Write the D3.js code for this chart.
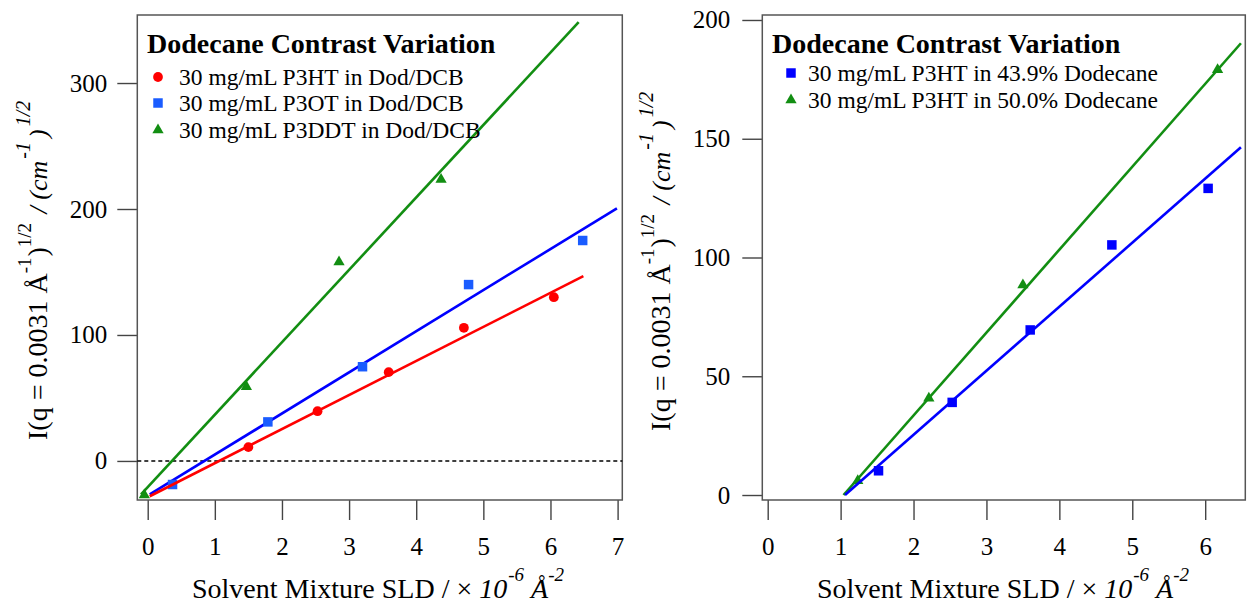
<!DOCTYPE html>
<html><head><meta charset="utf-8">
<script src="https://cdn.jsdelivr.net/npm/d3@7"></script>
<style>
body{margin:0;background:#fff;}
svg{display:block;font-family:"Liberation Serif","Times New Roman",serif;}
</style></head>
<body>
<svg id="c" width="1248" height="606"></svg>
<script>
// ---------- data ----------
const leftXTicks = [0,1,2,3,4,5,6,7];
const leftYTicks = [0,100,200,300];
const rightXTicks = [0,1,2,3,4,5,6];
const rightYTicks = [0,50,100,150,200];

const p3htX = [1.50, 2.53, 3.59, 4.71, 6.05];
const p3htY = [11.0, 39.5, 70.5, 105.7, 130.0];
const p3otX = [0.37, 1.79, 3.20, 4.78, 6.48];
const p3otY = [-18.7, 31.0, 74.8, 140.0, 175.0];
const p3ddtX = [-0.05, 1.47, 2.85, 4.37];
const p3ddtY = [-27.0, 59.0, 158.0, 223.5];
const p3htFit = [[0.03, -28.0], [6.49, 146.7]];
const p3otFit = [[0.03, -26.6], [6.99, 200.5]];
const p3ddtFit = [[-0.10, -26.5], [6.42, 348.3]];

const dod439X = [1.52, 2.53, 3.60, 4.72, 6.04];
const dod439Y = [10.2, 39.0, 69.5, 105.3, 129.1];
const dod500X = [1.235, 2.21, 3.50, 6.17];
const dod500Y = [6.0, 40.7, 88.4, 179.0];
const dod439Fit = [[1.06, 0.0], [6.49, 146.4]];
const dod500Fit = [[1.04, 0.0], [6.49, 190.2]];

const legendTitle = "Dodecane Contrast Variation";
const leftLegend = ["30 mg/mL P3HT in Dod/DCB","30 mg/mL P3OT in Dod/DCB","30 mg/mL P3DDT in Dod/DCB"];
const rightLegend = ["30 mg/mL P3HT in 43.9% Dodecane","30 mg/mL P3HT in 50.0% Dodecane"];

// ---------- styles ----------
const RED="#ff0000", BLUE="#0000ff", LBLUE="#1a5cff", GREEN="#128e12";
const FONT = '"Liberation Serif","Times New Roman",serif';
const svg = d3.select("#c");

function panel(o){
  const g = svg.append("g");
  const x = d3.scaleLinear().domain(o.xd).range([o.L, o.R]);
  const y = d3.scaleLinear().domain(o.yd).range([o.B, o.T]);
  const ax = g.append("g").attr("transform",`translate(0,${o.B})`)
    .call(d3.axisBottom(x).tickValues(o.xt).tickSize(20).tickSizeOuter(0).tickPadding(17).tickFormat(d3.format("d")));
  const ay = g.append("g").attr("transform",`translate(${o.L},0)`)
    .call(d3.axisLeft(y).tickValues(o.yt).tickSize(20).tickSizeOuter(0).tickPadding(o.ypad).tickFormat(d3.format("d")));
  [ax,ay].forEach(a=>{
    a.attr("font-family",FONT).attr("font-size",25);
    a.select(".domain").remove();
    a.selectAll("line").attr("stroke","#444").attr("stroke-width",1.4);
    a.selectAll("text").attr("fill","#000").style("font-size","25px").style("font-family",FONT);
  });
  g.append("rect").attr("x",o.L).attr("y",o.T).attr("width",o.R-o.L).attr("height",o.B-o.T)
    .attr("fill","none").attr("stroke","#555").attr("stroke-width",1.5);
  return {g,x,y};
}

function series(p, xs, ys, fit, color, mcolor, sym, size){
  const line = d3.line().x(d=>p.x(d[0])).y(d=>p.y(d[1]));
  p.g.append("path").attr("d",line(fit)).attr("stroke",color).attr("stroke-width",2.6).attr("fill","none");
  p.g.selectAll(null).data(xs.map((v,i)=>[v,ys[i]])).enter().append("path")
    .attr("d",d3.symbol().type(sym).size(size))
    .attr("transform",d=>`translate(${p.x(d[0])},${p.y(d[1])})`)
    .attr("fill",mcolor);
}

function legend(p, x0, titleY, items, symX, textX, rowY, rowBase){
  p.g.append("text").attr("x",x0).attr("y",titleY).text(legendTitle)
    .style("font-size","28px").style("font-weight","bold");
  items.forEach((it,i)=>{
    p.g.append("path").attr("d",d3.symbol().type(it.sym).size(it.size))
      .attr("transform",`translate(${symX},${rowY[i]})`).attr("fill",it.color);
    p.g.append("text").attr("x",textX).attr("y",rowBase[i]).text(it.label).style("font-size","23.5px");
  });
}

function yTitle(x, y){
  const t = svg.append("text").attr("transform",`translate(${x},${y}) rotate(-90)`).style("font-size","28px");
  t.append("tspan").text("I(q = 0.0031 Å");
  t.append("tspan").text("-1").style("font-size","19px").attr("dy",-16);
  t.append("tspan").text(")").attr("dy",16).attr("dx",1);
  t.append("tspan").text("1/2").style("font-size","19px").attr("dy",-16);
  t.append("tspan").text(" / (cm").style("font-size","26px").style("font-style","italic").attr("dy",16).attr("dx",3);
  t.append("tspan").text("-1").style("font-size","20px").style("font-style","italic").attr("dy",-17).attr("dx",2);
  t.append("tspan").text(")").style("font-size","26px").style("font-style","italic").attr("dy",17).attr("dx",4);
  t.append("tspan").text("1/2").style("font-size","20px").style("font-style","italic").attr("dy",-17).attr("dx",3);
}

function xTitle(x, y){
  const t = svg.append("text").attr("x",x).attr("y",y).style("font-size","28px");
  t.append("tspan").text("Solvent Mixture SLD / × ");
  t.append("tspan").text("10").style("font-style","italic");
  t.append("tspan").text("-6").style("font-size","19px").style("font-style","italic").attr("dy",-17).attr("dx",1);
  t.append("tspan").text(" Å").style("font-style","italic").attr("dy",17);
  t.append("tspan").text("-2").style("font-size","19px").style("font-style","italic").attr("dy",-17);
}

// ---------- left panel ----------
const pl = panel({L:137.3,R:622.3,T:15,B:500,xd:[-0.155,7.07],yd:[-31,354],xt:leftXTicks,yt:leftYTicks,ypad:10});
pl.g.append("line").attr("x1",pl.x.range()[0]).attr("x2",pl.x.range()[1])
  .attr("y1",pl.y(0)).attr("y2",pl.y(0)).attr("stroke","#000").attr("stroke-width",1.6).attr("stroke-dasharray","4,3");
series(pl, p3ddtX, p3ddtY, p3ddtFit, GREEN, GREEN, d3.symbolTriangle, 55);
series(pl, p3otX, p3otY, p3otFit, BLUE, LBLUE, d3.symbolSquare, 90);
series(pl, p3htX, p3htY, p3htFit, RED, RED, d3.symbolCircle, 75);
legend(pl, 147, 53, [
  {label:leftLegend[0],sym:d3.symbolCircle,size:75,color:RED},
  {label:leftLegend[1],sym:d3.symbolSquare,size:90,color:LBLUE},
  {label:leftLegend[2],sym:d3.symbolTriangle,size:55,color:GREEN}
], 158, 179, [77,103,130], [85,111,137.5]);

// ---------- right panel ----------
const pr = panel({L:762.3,R:1245.3,T:15,B:500,xd:[-0.074,6.55],yd:[-2.1,202.1],xt:rightXTicks,yt:rightYTicks,ypad:12});
series(pr, dod500X, dod500Y, dod500Fit, GREEN, GREEN, d3.symbolTriangle, 55);
series(pr, dod439X, dod439Y, dod439Fit, BLUE, BLUE, d3.symbolSquare, 90);
legend(pr, 772, 53, [
  {label:rightLegend[0],sym:d3.symbolSquare,size:90,color:BLUE},
  {label:rightLegend[1],sym:d3.symbolTriangle,size:55,color:GREEN}
], 791, 808, [73,100], [81,108]);

yTitle(47, 440);
yTitle(670, 431);
xTitle(192, 598);
xTitle(817, 598);
</script>
</body></html>
